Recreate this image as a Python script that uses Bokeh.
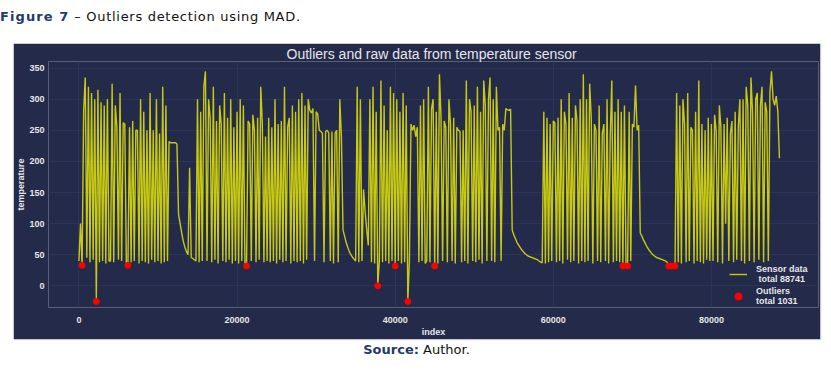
from bokeh.plotting import figure
from bokeh.models import Div, Legend, LegendItem, Range1d, FixedTicker, ColumnDataSource
from bokeh.layouts import column
from bokeh.embed import file_html
from bokeh.resources import INLINE

temp_rows = [
    [40, 100, 33, 282, 335, 45, 320, 38, 310, 42, 300, -25, 315, 38, 295, 40, 290, 36, 300, 40],
    [40, 325, 38, 290, 255, 42, 310, 40, 262, 260, 36, 33, 255, 38, 265, 40, 250, 250, 36, 300],
    [40, 280, 38, 250, 36, 310, 42, 250, 38, 300, 40, 245, 36, 320, 38, 290, 40, 232, 230, 230],
    [230, 230, 228, 115, 100, 85, 72, 62, 55, 50, 190, 46, 44, 42, 40, 300, 38, 280, 40, 320],
    [345, 40, 300, 270, 38, 320, 42, 265, 36, 290, 260, 40, 310, 38, 270, 42, 300, 36, 255, 40],
    [280, 36, 300, 40, 290, 36, 32, 265, 260, 40, 275, 250, 38, 270, 42, 320, 260, 38, 240, 40],
    [270, 38, 255, 40, 300, 36, 260, 42, 265, 38, 320, 40, 255, 270, 36, 290, 40, 280, 38, 300],
    [40, 310, 36, 290, 42, 300, 282, 278, 285, 40, 280, 276, 250, 248, 245, 38, 248, 250, 246, 40],
    [248, 36, 245, 250, 38, 300, 240, 90, 80, 70, 62, 55, 50, 46, 43, 40, 320, 38, 300, 40],
    [155, 120, 90, 65, 300, 38, 320, 36, 280, 0, 40, 330, 38, 290, 40, 250, 36, 320, 40, 310],
    [32, 300, 40, 280, 36, 310, 38, 290, -25, 40, 260, 250, 258, 240, 255, 38, 290, 40, 300, 36],
    [40, 320, 38, 285, 300, 32, 280, 36, 340, 270, 40, 265, 255, 38, 300, 260, 40, 270, 36, 255],
    [250, 248, 38, 250, 40, 330, 36, 300, 280, 40, 290, 38, 320, 42, 280, 36, 330, 290, 40, 300],
    [335, 40, 300, 38, 320, 250, 255, 40, 260, 250, 285, 283, 282, 284, 90, 82, 76, 70, 66, 62],
    [58, 55, 52, 50, 48, 47, 46, 45, 44, 43, 42, 40, 38, 37, 280, 36, 270, 38, 260, 40],
    [265, 262, 38, 270, 40, 300, 36, 280, 260, 42, 310, 38, 270, 40, 290, 265, 36, 300, 40, 340],
    [38, 300, 40, 325, 270, 36, 260, 250, 40, 290, 38, 245, 260, 40, 300, 36, 240, 330, 38, 280],
    [40, 300, 38, 280, 32, 290, 34, 32, 280, 40, 260, 255, 322, 250, 258, 85, 80, 74, 69, 64],
    [60, 56, 53, 50, 48, 46, 45, 44, 43, 42, 41, 40, 38, 32, 36, 32, 34, 32, 310, 38],
    [290, 36, 300, 260, 38, 310, 40, 255, 250, 36, 280, 40, 330, 38, 260, 36, 250, 42, 270, 40],
    [260, 40, 275, 250, 38, 290, 255, 36, 260, 100, 270, 40, 245, 265, 38, 280, 42, 255, 300, 40],
    [300, 36, 320, 290, 40, 335, 280, 38, 300, 310, 42, 290, 320, 38, 295, 280, 40, 310, 345, 300],
    [290, 305, 280, 205],
]
temperature = [v for row in temp_rows for v in row]
index = list(range(0, 200 * len(temperature), 200))

outlier_index = [400, 2200, 6200, 21200, 37800, 40000, 41600, 45000, 68800, 69400, 74600, 75000, 75400]
outlier_temp = [33, -25, 33, 32, 0, 32, -25, 32, 32, 32, 32, 32, 32]

x_ticks = [0, 20000, 40000, 60000, 80000]
y_ticks = [0, 50, 100, 150, 200, 250, 300, 350]

BG = "#232a4a"
TXT = "#e6e6e6"
FONT = "Liberation Sans"

p = figure(width=807, height=296, output_backend="svg", toolbar_location=None,
           x_range=Range1d(-3848, 93544), y_range=Range1d(-34.8, 360.6),
           min_border_left=32, min_border_right=2, min_border_top=10, min_border_bottom=10,
           background_fill_color=BG, border_fill_color=BG, outline_line_color=None)
p.margin = (0, 0, 0, 13)
p.styles = {"box-shadow": "1px 1px 1px #c4c6d0"}

p.title.text = "Outliers and raw data from temperature sensor"
p.title.text_font = FONT
p.title.text_font_size = "14px"
p.title.text_font_style = "normal"
p.title.text_color = TXT
p.title.align = "left"
p.title.offset = 238
p.title.standoff = 0

src = ColumnDataSource(dict(index=index, temperature=temperature))
line_r = p.line("index", "temperature", source=src, line_color="#ffff00", line_alpha=0.75, line_width=1.4)
osrc = ColumnDataSource(dict(index=outlier_index, temperature=outlier_temp))
dot_r = p.scatter("index", "temperature", source=osrc, size=6, fill_color="#ff0000", line_color="#ff0000")

for ax, ticks in ((p.xaxis[0], x_ticks), (p.yaxis[0], y_ticks)):
    ax.ticker = FixedTicker(ticks=ticks)
    ax.axis_line_color = None
    ax.major_tick_line_color = None
    ax.minor_tick_line_color = None
    ax.major_tick_out = 0
    ax.major_tick_in = 0
    ax.minor_tick_out = 0
    ax.minor_tick_in = 0
    ax.major_label_text_color = TXT
    ax.major_label_text_font = FONT
    ax.major_label_text_font_size = "9px"
    ax.major_label_text_font_style = "bold"
    ax.axis_label_text_color = TXT
    ax.axis_label_text_font = FONT
    ax.axis_label_text_font_size = "9px"
    ax.axis_label_text_font_style = "bold"
p.xaxis.axis_label = "index"
p.yaxis.axis_label = "temperature"
p.xaxis.major_label_standoff = 9
p.xaxis.axis_label_standoff = 1
p.yaxis.major_label_standoff = 4
p.yaxis.axis_label_standoff = 0
p.xaxis.formatter.use_scientific = False

p.xgrid.ticker = FixedTicker(ticks=x_ticks)
p.ygrid.ticker = FixedTicker(ticks=y_ticks)
p.grid.grid_line_color = "#2c3457"
p.grid.grid_line_width = 1

legend = Legend(items=[LegendItem(label="Sensor data\n total 88741", renderers=[line_r]),
                       LegendItem(label="Outliers\ntotal 1031", renderers=[dot_r])],
                location=(681, 1), background_fill_alpha=0, border_line_alpha=0,
                label_text_color=TXT, label_text_font=FONT, label_text_font_size="9px",
                label_text_font_style="bold", glyph_width=18, label_standoff=9,
                spacing=2, padding=0, margin=0)
p.add_layout(legend)

cap = Div(text='<div style="font-family:\'DejaVu Sans\';font-size:13px;color:#111;padding-top:8px;letter-spacing:0.7px">'
               '<span style="color:#1f3a6e;font-weight:bold;letter-spacing:1.1px">Figure 7</span> &#8211; Outliers detection using MAD.</div>',
          width=820, height=43, margin=(0, 0, 0, 0))
src_div = Div(text='<div style="font-family:\'DejaVu Sans\';font-size:13px;color:#111;text-align:center;padding-top:2px;width:807px">'
                   '<span style="color:#1f3a6e;font-weight:bold">Source:</span> Author.</div>',
              width=807, height=28, margin=(0, 0, 0, 13))

layout = column(cap, p, src_div)
open("out.html", "w").write(file_html(layout, INLINE))
